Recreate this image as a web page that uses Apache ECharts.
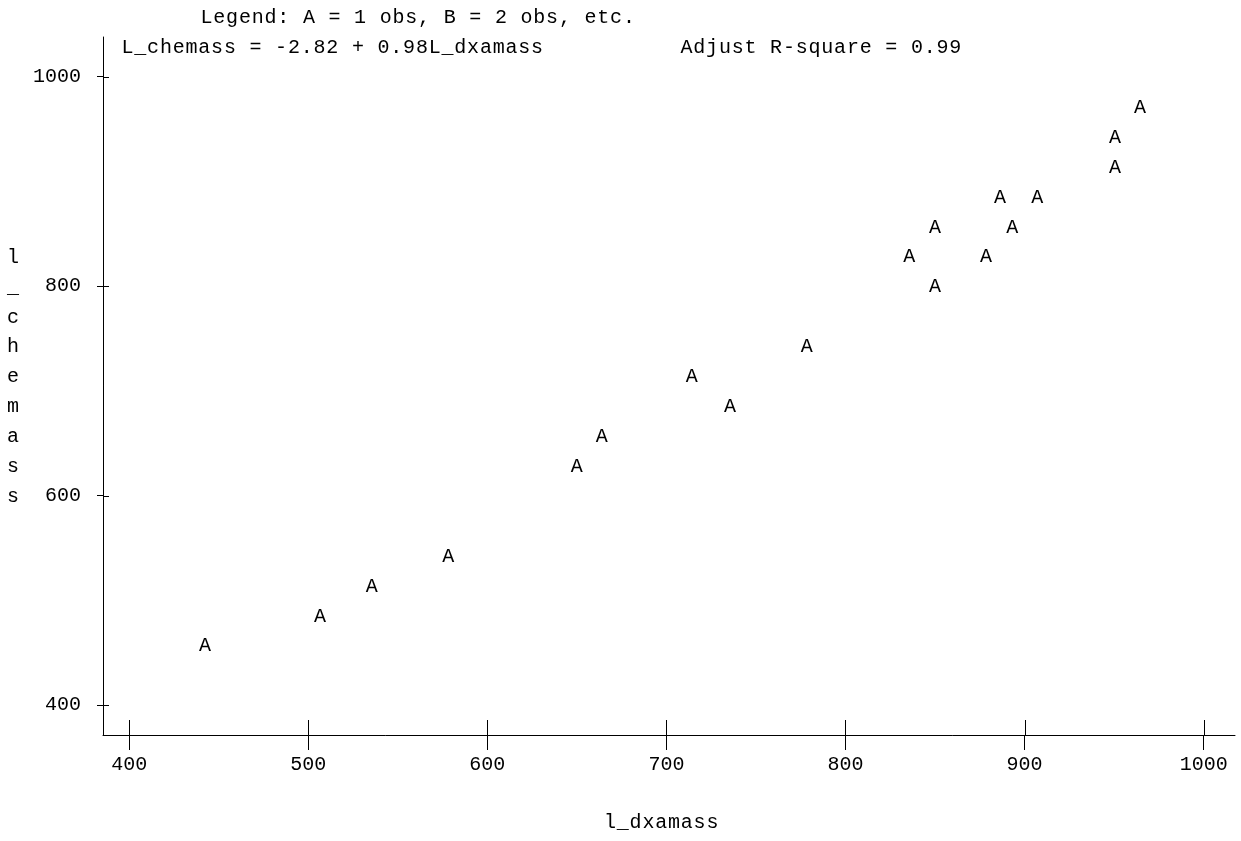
<!DOCTYPE html>
<html>
<head>
<meta charset="utf-8">
<script src="https://cdn.jsdelivr.net/npm/echarts@6/dist/echarts.min.js"></script>
<style>
html,body{margin:0;padding:0;background:#fff;}
#main{width:1241px;height:841px;}
</style>
</head>
<body>
<div id="main"></div>
<script>
// ---- data ----
const dxamass = [442.4, 506.6, 535.5, 578.2, 649.9, 663.9, 714.1, 735.5, 778.3, 835.6, 850.0, 850.0, 878.4, 886.3, 893.1, 907.1, 950.5, 950.5, 964.4];
const chemass = [457.1, 485.7, 514.3, 542.9, 628.6, 657.1, 714.3, 685.7, 742.9, 828.6, 857.1, 800.0, 828.6, 885.7, 857.1, 885.7, 914.3, 942.9, 971.4];
const obsLetter = ['A','A','A','A','A','A','A','A','A','A','A','A','A','A','A','A','A','A','A'];
const xTicks = [400, 500, 600, 700, 800, 900, 1000];
const yTicks = [400, 600, 800, 1000];
const legendText = 'Legend: A = 1 obs, B = 2 obs, etc.';
const eqText = 'L_chemass = -2.82 + 0.98L_dxamass';
const r2Text = 'Adjust R-square = 0.99';
const xTitle = 'l_dxamass';
const yTitle = 'l_chemass';

// ---- styling ----
const FONT = '"Liberation Mono", "DejaVu Sans Mono", monospace';
const FS = 20;
const CELL = 12.8;
const X_MIN = 385.4, X_MAX = 1017.5, Y_MIN = 371.3, Y_MAX = 1037.9;

function charRow(str, x0, y) {
  const out = [];
  for (let i = 0; i < str.length; i++) {
    if (str[i] === ' ') continue;
    out.push({type:'text', x: x0 + i * CELL, y: y,
      style:{text: str[i], fontFamily: FONT, fontSize: FS, fill:'#000', align:'center', verticalAlign:'middle'}});
  }
  return out;
}
function charCol(str, x, y0, step) {
  const out = [];
  for (let i = 0; i < str.length; i++) {
    out.push({type:'text', x: x, y: y0 + i * step,
      style:{text: str[i], fontFamily: FONT, fontSize: FS, fill:'#000', align:'center', verticalAlign:'middle'}});
  }
  return out;
}

const graphics = [].concat(
  charRow(legendText, 206.5, 17.5),
  charRow(eqText, 127.5, 47.5),
  charRow(r2Text, 686.5, 47.5),
  charRow(xTitle, 610, 823),
  charCol(yTitle, 13, 257.5, 29.9)
);

const points = dxamass.map((x, i) => [x, chemass[i]]);

const option = {
  animation: false,
  backgroundColor: '#fff',
  grid: {left: 103, top: 37, width: 1132, height: 698, containLabel: false},
  xAxis: [{
    type: 'value', position: 'bottom', min: X_MIN, max: X_MAX,
    splitLine: {show: false},
    axisLine: {show: true, lineStyle: {color: '#000', width: 1}},
    axisTick: {show: true, inside: false, length: 15, customValues: xTicks, lineStyle: {color: '#000', width: 1}},
    axisLabel: {show: true, customValues: xTicks, margin: 20, color: '#000', fontFamily: FONT, fontSize: FS,
      formatter: v => String(Math.round(v))}
  }],
  yAxis: [{
    type: 'value', position: 'left', min: Y_MIN, max: Y_MAX,
    splitLine: {show: false},
    axisLine: {show: true, lineStyle: {color: '#000', width: 1}},
    axisTick: {show: true, inside: false, length: 6, customValues: yTicks, lineStyle: {color: '#000', width: 1}},
    axisLabel: {show: true, customValues: yTicks, margin: 22, color: '#000', fontFamily: FONT, fontSize: FS,
      formatter: v => String(Math.round(v))}
  }],
  graphic: graphics,
  series: [{
    // inner half of the x tick marks (ticks cross the axis line)
    type: 'custom',
    name: 'xticks',
    silent: true,
    clip: false,
    data: xTicks.map(v => [v, Y_MIN]),
    renderItem: function (params, api) {
      const p = api.coord([api.value(0), api.value(1)]);
      const x = Math.round(p[0]) + 0.5;
      return {type: 'line', shape: {x1: x, y1: p[1] - 15, x2: x, y2: p[1]}, style: {stroke: '#000', lineWidth: 1}};
    }
  }, {
    // inner half of the y tick marks
    type: 'custom',
    name: 'yticks',
    silent: true,
    clip: false,
    data: yTicks.map(v => [X_MIN, v]),
    renderItem: function (params, api) {
      const p = api.coord([api.value(0), api.value(1)]);
      const y = Math.round(p[1]) + 0.5;
      return {type: 'line', shape: {x1: p[0], y1: y, x2: p[0] + 6, y2: y}, style: {stroke: '#000', lineWidth: 1}};
    }
  }, {
    type: 'custom',
    name: 'l_chemass',
    data: points,
    renderItem: function (params, api) {
      const p = api.coord([api.value(0), api.value(1)]);
      return {type: 'text', x: p[0], y: p[1] + 1,
        style: {text: obsLetter[params.dataIndex], fontFamily: FONT, fontSize: FS, fill: '#000', align: 'center', verticalAlign: 'middle'}};
    }
  }]
};

const chart = echarts.init(document.getElementById('main'), null, {renderer: 'canvas'});
chart.setOption(option);
</script>
</body>
</html>
